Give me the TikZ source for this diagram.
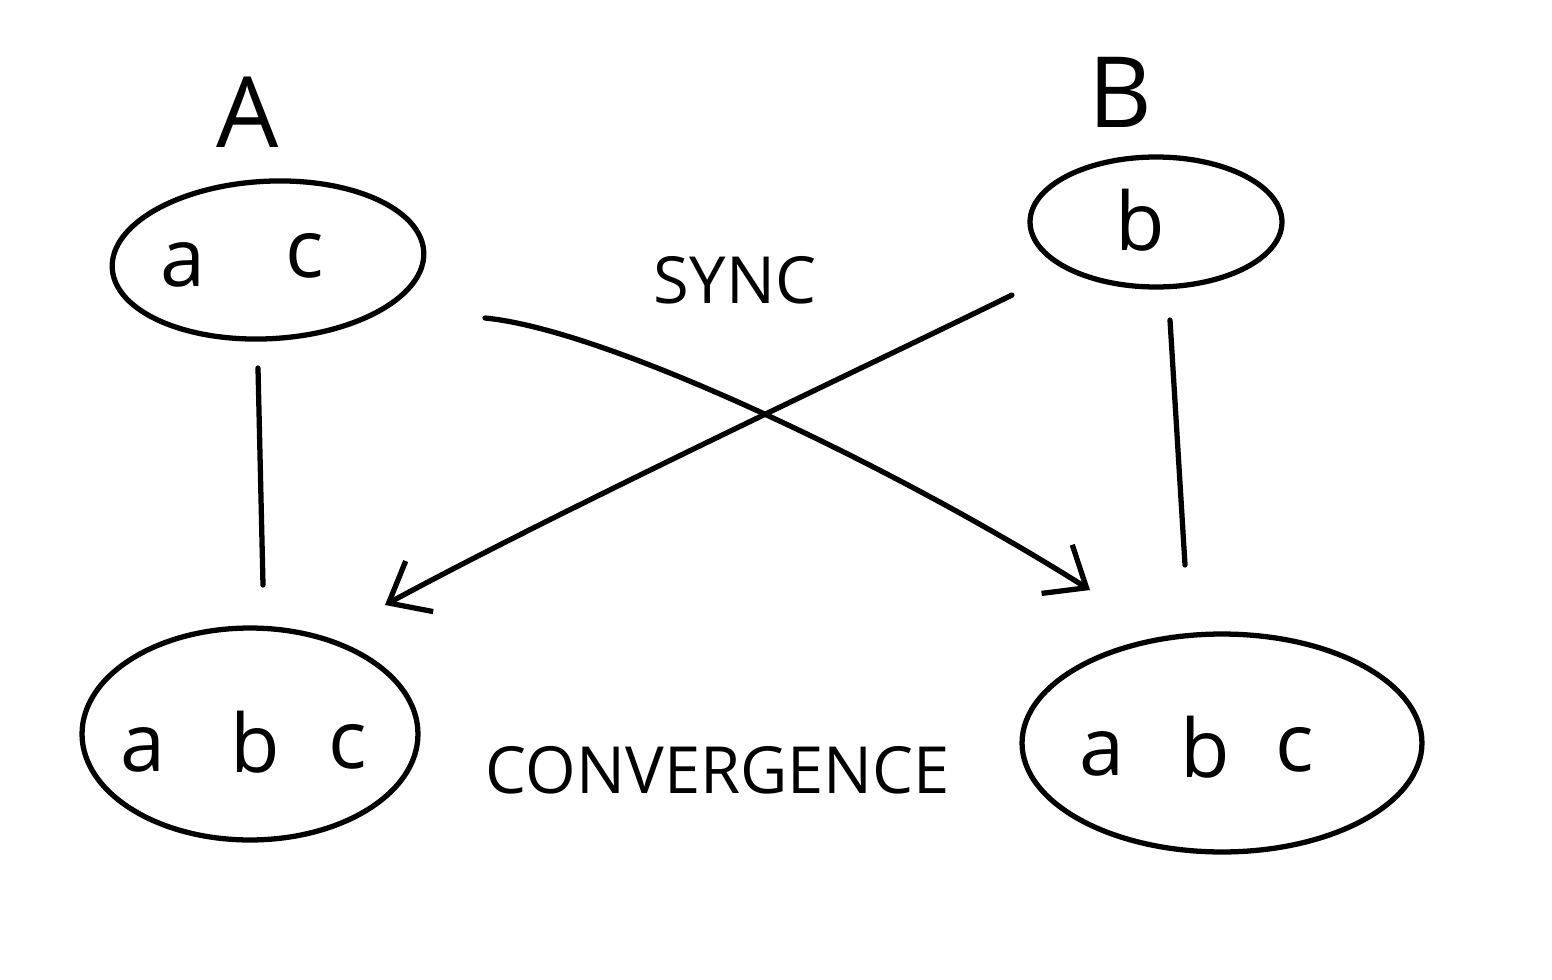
\documentclass[tikz,border=0pt]{standalone}
\usepackage{fontspec}
\setmainfont{Open Sans}
\usetikzlibrary{arrows.meta,shapes.geometric}
\begin{document}
\begin{tikzpicture}[x=0.02cm,y=-0.02cm,
  ink/.style={line width=3pt,line cap=round,line join=round},
  blob/.style={ink,draw,ellipse,inner sep=0pt},
  letter/.style={font=\fontsize{46}{50}\selectfont,inner sep=0pt},
  title/.style={font=\fontsize{56}{60}\selectfont,inner sep=0pt},
  word/.style={font=\fontsize{37}{40}\selectfont,inner sep=0pt},
  arr/.style={ink,-{Straight Barb[length=0.7cm,width=1.15cm,line width=3pt]}}]
\useasboundingbox (0,0) rectangle (1552,980);
% labels
\node[title] (lA) at (248,112) {A};
\node[title] (lB) at (1120,92) {B};
% ellipses
\node[blob,minimum width=6.24cm,minimum height=3.15cm,rotate=3] (eA) at (268,260) {};
\node[blob,minimum width=5.04cm,minimum height=2.6cm] (eB) at (1156,222) {};
\node[blob,minimum width=6.72cm,minimum height=4.24cm] (eAc) at (250,734) {};
\node[blob,minimum width=8cm,minimum height=4.36cm] (eBc) at (1222,743) {};
% contents
\node[letter] (a1) at (183,265) {a};
\node[letter] (c1) at (305,256) {c};
\node[letter] (b2) at (1140,220) {b};
\node[letter] (a3) at (143,750) {a};
\node[letter] (b3) at (255,742) {b};
\node[letter] (c3) at (348,747) {c};
\node[letter] (a4) at (1102,754) {a};
\node[letter] (b4) at (1205,747) {b};
\node[letter] (c4) at (1295,750) {c};
% words
\node[word] (sync) at (735,280) {SYNC};
\node[word] (conv) at (718,770) {CONVERGENCE};
% connector end points
\coordinate (vA1) at (258,368);
\coordinate (vA2) at (263,585);
\coordinate (vB1) at (1170,320);
\coordinate (vB2) at (1185,565);
\coordinate (s1) at (485,318);
\coordinate (t1) at (1090,590);
\coordinate (s2) at (1012,295);
\coordinate (t2) at (385,605);
% lines
\draw[ink] (vA1) -- (vA2);
\draw[ink] (vB1) -- (vB2);
\draw[arr] (s1) .. controls (610,330) and (900,470) .. (t1);
\draw[arr] (s2) .. controls (880,360) and (560,510) .. (t2);
\end{tikzpicture}
\end{document}
